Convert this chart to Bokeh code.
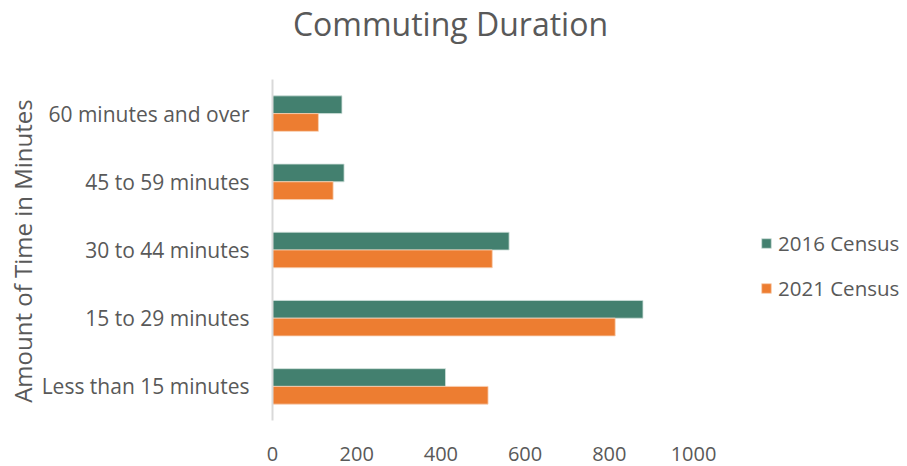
from bokeh.plotting import figure
from bokeh.models import (ColumnDataSource, Range1d, Legend, LegendItem, FixedTicker, Label)
from bokeh.transform import dodge
from bokeh.embed import file_html
from bokeh.resources import INLINE

# Commuting duration, counts by census year
categories = ["Less than 15 minutes", "15 to 29 minutes", "30 to 44 minutes",
              "45 to 59 minutes", "60 minutes and over"]
census_2016 = [411, 880, 562, 170, 165]
census_2021 = [512, 814, 522, 144, 109]
x_ticks = [0, 200, 400, 600, 800, 1000]

TEAL = "#43806F"
ORANGE = "#ED7D31"
GREY = "#595959"
FONT = "Open Sans"

W, H = 907, 466
LEFT, BOTTOM = 272, 46
PLOT_TOP = 79            # top of the category area
PX_PER_UNIT = 0.421      # horizontal scale of the value axis
frame_h = H - BOTTOM
px_per_cat = (frame_h - PLOT_TOP) / len(categories)

# the frame fills the canvas to the top and right edges, so the title and
# legend are drawn inside it; the y axis rule is bounded to the categories
x_end = (W - LEFT) / PX_PER_UNIT
y_end = -0.5 + frame_h / px_per_cat

y_pos = list(range(len(categories)))
source = ColumnDataSource(dict(pos=y_pos, c2016=census_2016, c2021=census_2021))

p = figure(width=W, height=H, output_backend="svg", toolbar_location=None,
           x_range=Range1d(0, x_end), y_range=Range1d(-0.5, y_end),
           min_border_left=LEFT, min_border_right=0,
           min_border_top=0, min_border_bottom=BOTTOM)
p.outline_line_color = None
p.xgrid.visible = False
p.ygrid.visible = False
p.background_fill_color = "white"
p.border_fill_color = "white"

r16 = p.hbar(y=dodge("pos", 0.13), right="c2016", left=0, height=0.26,
             source=source, fill_color=TEAL, line_color="#cfe0db", line_width=0.8)
r21 = p.hbar(y=dodge("pos", -0.13), right="c2021", left=0, height=0.26,
             source=source, fill_color=ORANGE, line_color="#f7cfb2", line_width=0.8)

# x axis: labels only
p.xaxis.ticker = FixedTicker(ticks=x_ticks)
p.xaxis.axis_line_color = None
p.xaxis.major_tick_line_color = None
p.xaxis.minor_tick_line_color = None
p.xaxis.major_label_text_font = FONT
p.xaxis.major_label_text_font_size = "20px"
p.xaxis.major_label_text_color = GREY
p.xaxis.major_label_standoff = 20

# y axis: light rule with category labels
p.yaxis.ticker = FixedTicker(ticks=y_pos)
p.yaxis.major_label_overrides = {i: name for i, name in zip(y_pos, categories)}
p.yaxis.bounds = (-0.5, len(categories) - 0.5)
p.yaxis.axis_line_color = "#D9D9D9"
p.yaxis.axis_line_width = 2
p.yaxis.major_tick_line_color = None
p.yaxis.minor_tick_line_color = None
p.yaxis.major_label_text_font = FONT
p.yaxis.major_label_text_font_size = "21px"
p.yaxis.major_label_text_color = GREY
p.yaxis.major_label_standoff = 17
# the axis title is centred on the whole frame; trailing no-break spaces
# bring the visible words down to the middle of the category area
p.yaxis.axis_label = "Amount of Time in Minutes" + "\u00a0" * 13
p.yaxis.axis_label_text_font = FONT
p.yaxis.axis_label_text_font_size = "24px"
p.yaxis.axis_label_text_font_style = "normal"
p.yaxis.axis_label_text_color = GREY
p.yaxis.axis_label_standoff = 0

# chart title, placed in screen space above the category area
p.add_layout(Label(x=450 - LEFT, y=frame_h - 23, x_units="screen", y_units="screen",
                   text="Commuting Duration", text_align="center",
                   text_baseline="alphabetic", text_font=FONT,
                   text_font_size="32px", text_color=GREY))

legend = Legend(items=[LegendItem(label="2016 Census", renderers=[r16]),
                       LegendItem(label="2021 Census", renderers=[r21])],
                location=(488, 118), orientation="vertical",
                border_line_color=None, background_fill_alpha=0,
                padding=0, margin=0, spacing=17,
                glyph_width=12, glyph_height=12, label_height=22,
                label_standoff=6, label_text_font=FONT,
                label_text_font_size="20.5px", label_text_color=GREY)
p.add_layout(legend, "center")

open("out.html", "w").write(file_html(p, INLINE))
